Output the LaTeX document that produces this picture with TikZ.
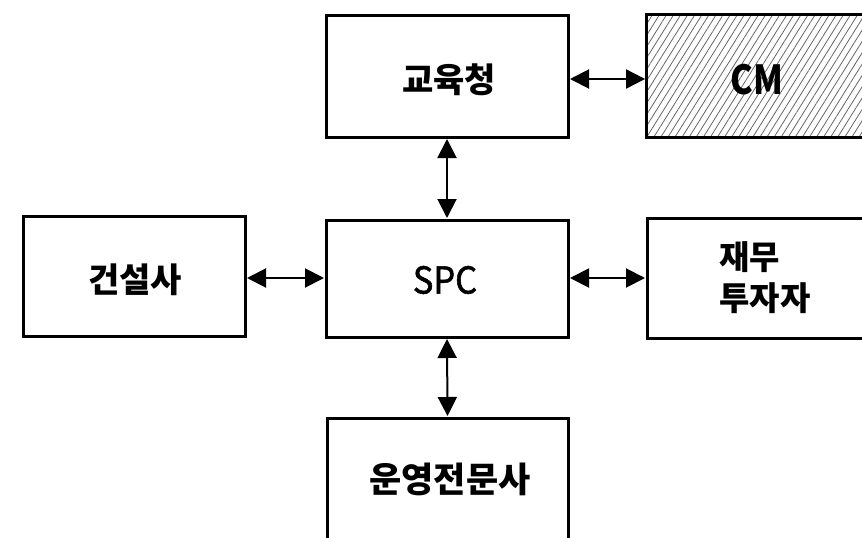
\documentclass[tikz,border=0pt]{standalone}
\usepackage{fontspec}
\newfontfamily\cjk{Noto Sans CJK KR}
\usetikzlibrary{arrows.meta,patterns.meta}
\tikzset{
  box/.style={draw=black, line width=3pt, rectangle, inner sep=0pt},
  ktext/.style={font=\cjk\bfseries\fontsize{34}{40}\selectfont, text=black},
  link/.style={line width=2pt, {Triangle[length=19pt,width=19pt]}-{Triangle[length=19pt,width=19pt]}, shorten <=0.5pt, shorten >=0.5pt}
}
\begin{document}
\begin{tikzpicture}[x=1pt,y=-1pt]
\useasboundingbox (0,0) rectangle (862,538);
\fill[white] (0,0) rectangle (862,538);
\clip (0,0) rectangle (862,538);
% boxes
\node[box, minimum width=242pt, minimum height=122pt] (edu) at (447,76) {};
\node[box, minimum width=236pt, minimum height=123pt,
      pattern={Lines[angle=58,distance=6pt,line width=0.8pt]}, pattern color=black!60] (cm) at (764,75.5) {};
\node[box, minimum width=222pt, minimum height=120pt] (con) at (134,276) {};
\node[box, minimum width=242pt, minimum height=117pt] (spc) at (447,278.5) {};
\node[box, minimum width=240pt, minimum height=120pt] (fin) at (767,278) {};
\node[box, minimum width=241pt, minimum height=160pt] (ops) at (447.5,498) {};
% texts
\node[ktext] (edut) at (449,80) {교육청};
\node[font=\cjk\bfseries\fontsize{40}{40}\selectfont] (cmt) at (757,80) {\scalebox{0.85}[1]{CM}};
\node[ktext] (cont) at (135,280) {건설사};
\node[font=\cjk\fontsize{37}{40}\selectfont\addfontfeature{FakeBold=1.5}] (spct) at (445,280) {\scalebox{0.93}[1]{SPC}};
\node[ktext, align=left, font=\cjk\bfseries\fontsize{33}{41}\selectfont] (fint) at (765,278) {재무\\투자자};
\node[ktext, font=\cjk\bfseries\fontsize{35}{40}\selectfont] (opst) at (450,479) {운영전문사};
% connectors
\draw[link] (edu.east |- 0,79) -- (cm.west |- 0,79);
\draw[link] (edu.south) -- (spc.north);
\draw[link] (con.east |- 0,278) -- (spc.west |- 0,278);
\draw[link] (spc.east |- 0,278) -- (fin.west |- 0,278);
\draw[link] (spc.south) -- (ops.north);
\end{tikzpicture}
\end{document}
